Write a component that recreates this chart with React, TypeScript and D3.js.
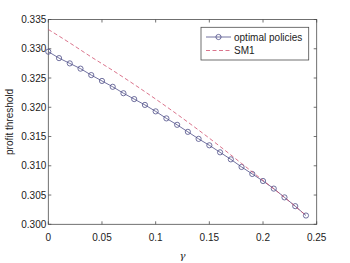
import React, { useEffect, useRef } from 'react';
import * as d3 from 'd3';

const gammas = [0, 0.01, 0.02, 0.03, 0.04, 0.05, 0.06, 0.07, 0.08, 0.09, 0.1, 0.11, 0.12,
  0.13, 0.14, 0.15, 0.16, 0.17, 0.18, 0.19, 0.2, 0.21, 0.22, 0.23, 0.24];
const optimal = [0.3295, 0.3284, 0.3275, 0.3266, 0.3255, 0.3245, 0.3235, 0.3224, 0.3214,
  0.3204, 0.3193, 0.3181, 0.317, 0.3158, 0.3146, 0.3135, 0.3123, 0.3111, 0.3098, 0.3086,
  0.3074, 0.3061, 0.3046, 0.3031, 0.3015];
const smGammas = [0, 0.02, 0.04, 0.06, 0.08, 0.1, 0.12, 0.14, 0.16, 0.18, 0.2, 0.22, 0.24];
const sm1 = [0.3333, 0.331, 0.3286, 0.3263, 0.3239, 0.3214, 0.3188, 0.3161, 0.3133, 0.3104,
  0.3075, 0.3046, 0.3015];
const xTicks = [0, 0.05, 0.1, 0.15, 0.2, 0.25];
const yTicks = [0.3, 0.305, 0.31, 0.315, 0.32, 0.325, 0.33, 0.335];

const W = 350;
const H = 263;
const margin = { left: 48.3, top: 19.5, right: 33.3, bottom: 38.7 };

const App = () => {
  const svgRef = useRef<SVGSVGElement>(null);

  useEffect(() => {
    const svg = d3.select(svgRef.current);
    svg.selectAll('*').remove();
    const x0 = margin.left;
    const x1 = W - margin.right;
    const y0 = H - margin.bottom;
    const y1 = margin.top;

    const x = d3.scaleLinear().domain([0, 0.25]).range([x0, x1]);
    const y = d3.scaleLinear().domain([0.3, 0.335]).range([y0, y1]);
    const font = 'Liberation Sans, Arial, sans-serif';
    const axisColor = '#4d4d4d';

    svg.append('rect').attr('x', 0).attr('y', 0).attr('width', W).attr('height', H).attr('fill', '#fff');

    // box
    svg
      .append('rect')
      .attr('x', x0)
      .attr('y', y1)
      .attr('width', x1 - x0)
      .attr('height', y0 - y1)
      .attr('fill', 'none')
      .attr('stroke', axisColor)
      .attr('stroke-width', 0.8);

    const tl = 3;
    const g = svg.append('g').attr('stroke', axisColor).attr('stroke-width', 0.8);
    xTicks.forEach((t) => {
      g.append('line').attr('x1', x(t)).attr('x2', x(t)).attr('y1', y0).attr('y2', y0 - tl);
      g.append('line').attr('x1', x(t)).attr('x2', x(t)).attr('y1', y1).attr('y2', y1 + tl);
    });
    yTicks.forEach((t) => {
      g.append('line').attr('x1', x0).attr('x2', x0 + tl).attr('y1', y(t)).attr('y2', y(t));
      g.append('line').attr('x1', x1).attr('x2', x1 - tl).attr('y1', y(t)).attr('y2', y(t));
    });

    svg
      .selectAll('.xl')
      .data(xTicks)
      .enter()
      .append('text')
      .attr('x', (d) => x(d))
      .attr('y', y0 + 17)
      .attr('text-anchor', 'middle')
      .attr('font-family', font)
      .attr('font-size', 10)
      .attr('fill', '#222')
      .text((d) => (d === 0 ? '0' : String(d)));

    svg
      .selectAll('.yl')
      .data(yTicks)
      .enter()
      .append('text')
      .attr('x', x0 - 2)
      .attr('y', (d) => y(d) + 3.5)
      .attr('text-anchor', 'end')
      .attr('font-family', font)
      .attr('font-size', 10)
      .attr('fill', '#222')
      .text((d) => d3.format('.3f')(d));

    svg
      .append('text')
      .attr('transform', `translate(13,${(y0 + y1) / 2}) rotate(-90)`)
      .attr('text-anchor', 'middle')
      .attr('font-family', font)
      .attr('font-size', 10)
      .attr('fill', '#222')
      .text('profit threshold');

    svg
      .append('text')
      .attr('x', (x0 + x1) / 2)
      .attr('y', 259)
      .attr('text-anchor', 'middle')
      .attr('font-family', 'DejaVu Serif, serif')
      .attr('font-style', 'italic')
      .attr('font-size', 10)
      .attr('fill', '#222')
      .text('γ');

    const optColor = '#4e4e88';
    const smColor = '#d0506e';

    const line = d3
      .line<number>()
      .x((d, i) => x(gammas[i]))
      .y((d) => y(d));
    const smLine = d3
      .line<number>()
      .x((d, i) => x(smGammas[i]))
      .y((d) => y(d))
      .curve(d3.curveMonotoneX);

    svg
      .append('path')
      .attr('d', line(optimal))
      .attr('fill', 'none')
      .attr('stroke', optColor)
      .attr('stroke-width', 0.8);

    svg
      .selectAll('.pt')
      .data(optimal)
      .enter()
      .append('circle')
      .attr('cx', (d, i) => x(gammas[i]))
      .attr('cy', (d) => y(d))
      .attr('r', 2.6)
      .attr('fill', 'none')
      .attr('stroke', optColor)
      .attr('stroke-width', 0.8);

    svg
      .append('path')
      .attr('d', smLine(sm1))
      .attr('fill', 'none')
      .attr('stroke', smColor)
      .attr('stroke-width', 0.8)
      .attr('stroke-dasharray', '4,2.5');

    // legend
    const lg = svg.append('g');
    lg.append('rect')
      .attr('x', 201)
      .attr('y', 27.3)
      .attr('width', 107.7)
      .attr('height', 32.7)
      .attr('fill', '#fff')
      .attr('stroke', axisColor)
      .attr('stroke-width', 0.8);
    lg.append('line')
      .attr('x1', 206).attr('x2', 231).attr('y1', 37).attr('y2', 37)
      .attr('stroke', optColor).attr('stroke-width', 0.8);
    lg.append('circle')
      .attr('cx', 218.5).attr('cy', 37).attr('r', 2.6)
      .attr('fill', 'none').attr('stroke', optColor).attr('stroke-width', 0.8);
    lg.append('line')
      .attr('x1', 206).attr('x2', 231).attr('y1', 50.5).attr('y2', 50.5)
      .attr('stroke', smColor).attr('stroke-width', 0.8).attr('stroke-dasharray', '4,2.5');
    lg.append('text')
      .attr('x', 234).attr('y', 40.5)
      .attr('font-family', font).attr('font-size', 10).attr('fill', '#222')
      .text('optimal policies');
    lg.append('text')
      .attr('x', 234).attr('y', 54)
      .attr('font-family', font).attr('font-size', 10).attr('fill', '#222')
      .text('SM1');
  }, []);

  return (
    <svg
      ref={svgRef}
      width={W}
      height={H}
      style={{ position: 'absolute', left: 0, top: 0 }}
    />
  );
};

export default App;
